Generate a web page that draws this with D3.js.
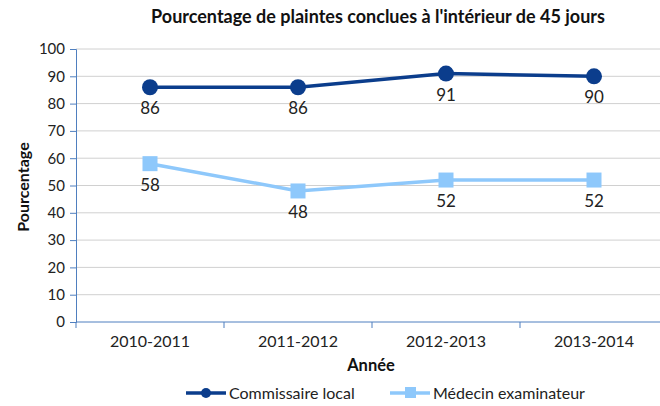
<!DOCTYPE html>
<html>
<head>
<meta charset="utf-8">
<script src="https://cdn.jsdelivr.net/npm/d3@7"></script>
<style>
  body { margin: 0; background: #fff; }
  svg text { font-family: Lato, "Open Sans", sans-serif; }
</style>
</head>
<body>
<svg id="chart" width="660" height="406"></svg>
<script>
// chart data
const years = ["2010-2011", "2011-2012", "2012-2013", "2013-2014"];
const commissaire = [86, 86, 91, 90];
const medecin = [58, 48, 52, 52];
const yTicks = [0, 10, 20, 30, 40, 50, 60, 70, 80, 90, 100];

const series = [
  { name: "Commissaire local", values: commissaire, color: "#0b3d8c", shape: "circle" },
  { name: "Médecin examinateur", values: medecin, color: "#8ec8fb", shape: "square" }
];

const svg = d3.select("#chart");
const PLOT = { left: 76, right: 668, top: 49, bottom: 322 };

const x = d3.scaleBand().domain(years).range([PLOT.left, PLOT.right]);
const y = d3.scaleLinear().domain([0, 100]).range([PLOT.bottom, PLOT.top]);

// gridlines
svg.append("g")
  .selectAll("line")
  .data(yTicks.filter(d => d > 0))
  .join("line")
  .attr("x1", PLOT.left)
  .attr("x2", 660)
  .attr("y1", d => y(d))
  .attr("y2", d => y(d))
  .attr("stroke", "#d0d0d0")
  .attr("stroke-width", 1);

// y axis
const yAxis = svg.append("g")
  .attr("transform", `translate(${PLOT.left},0)`)
  .call(d3.axisLeft(y).tickValues(yTicks).tickSize(6).tickPadding(5));
yAxis.select(".domain").attr("stroke", "#4f7fbf");
yAxis.selectAll(".tick line").attr("stroke", "#4f7fbf");
yAxis.selectAll(".tick text").attr("font-size", 15).attr("fill", "#222");

// x axis
const xAxis = svg.append("g")
  .attr("transform", `translate(0,${PLOT.bottom})`)
  .call(d3.axisBottom(x).tickSize(0).tickPadding(14));
xAxis.select(".domain").attr("stroke", "#4f7fbf").attr("d", `M${PLOT.left},0H660`);
xAxis.selectAll(".tick text").attr("font-size", 16).attr("fill", "#222");
// tick marks at band boundaries
xAxis.append("g")
  .selectAll("line")
  .data(years)
  .join("line")
  .attr("x1", d => x(d))
  .attr("x2", d => x(d))
  .attr("y1", 0)
  .attr("y2", 6)
  .attr("stroke", "#4f7fbf");

const cx = d => x(d) + x.bandwidth() / 2;
const line = d3.line().x(d => cx(d.year)).y(d => y(d.value));

series.forEach(s => {
  const pts = years.map((year, i) => ({ year, value: s.values[i] }));
  const g = svg.append("g");
  g.append("path")
    .datum(pts)
    .attr("d", line)
    .attr("fill", "none")
    .attr("stroke", s.color)
    .attr("stroke-width", 3.5);
  if (s.shape === "circle") {
    g.selectAll("circle").data(pts).join("circle")
      .attr("cx", d => cx(d.year))
      .attr("cy", d => y(d.value))
      .attr("r", 8)
      .attr("fill", s.color);
  } else {
    g.selectAll("rect").data(pts).join("rect")
      .attr("x", d => cx(d.year) - 7.5)
      .attr("y", d => y(d.value) - 7.5)
      .attr("width", 15)
      .attr("height", 15)
      .attr("fill", s.color);
  }
  g.selectAll("text").data(pts).join("text")
    .attr("x", d => cx(d.year))
    .attr("y", d => y(d.value) + 27)
    .attr("text-anchor", "middle")
    .attr("font-size", 17)
    .attr("fill", "#222")
    .text(d => d.value);
});

// title
svg.append("text")
  .attr("x", 378)
  .attr("y", 23)
  .attr("text-anchor", "middle")
  .attr("font-size", 18)
  .attr("font-weight", "bold")
  .attr("fill", "#111")
  .text("Pourcentage de plaintes conclues à l'intérieur de 45 jours");

// axis titles
svg.append("text")
  .attr("transform", "translate(29,187) rotate(-90)")
  .attr("text-anchor", "middle")
  .attr("font-size", 16)
  .attr("font-weight", "bold")
  .attr("fill", "#111")
  .text("Pourcentage");

svg.append("text")
  .attr("x", 371)
  .attr("y", 371)
  .attr("text-anchor", "middle")
  .attr("font-size", 16.5)
  .attr("font-weight", "bold")
  .attr("fill", "#111")
  .text("Année");

// legend
const legendX = [186, 390];
series.forEach((s, i) => {
  const g = svg.append("g").attr("transform", `translate(${legendX[i]},393)`);
  g.append("line")
    .attr("x1", 0).attr("x2", 40)
    .attr("stroke", s.color).attr("stroke-width", 3.5);
  if (s.shape === "circle") {
    g.append("circle").attr("cx", 20).attr("r", 5).attr("fill", s.color);
  } else {
    g.append("rect").attr("x", 15).attr("y", -6).attr("width", 11).attr("height", 11).attr("fill", s.color);
  }
  g.append("text")
    .attr("x", 43)
    .attr("y", 6)
    .attr("font-size", 16)
    .attr("fill", "#222")
    .text(s.name);
});
</script>
</body>
</html>
